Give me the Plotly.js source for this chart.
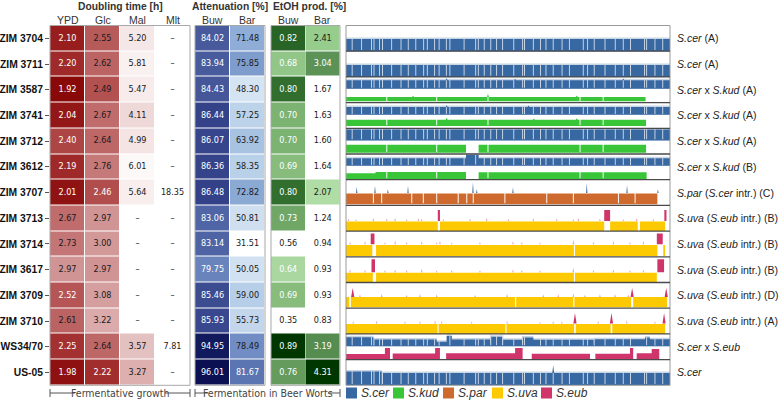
<!DOCTYPE html>
<html>
<head>
<meta charset="utf-8">
<script src="https://cdn.plot.ly/plotly-3.0.1.min.js"></script>
<style>
  html, body { margin: 0; padding: 0; background: #fff; }
  #chart { width: 780px; height: 405px; }
</style>
</head>
<body>
<div id="chart"></div>
<script>
// ---------------- phenotype tables ----------------
const strains = ['ZIM 3704', 'ZIM 3711', 'ZIM 3587', 'ZIM 3741', 'ZIM 3712', 'ZIM 3612', 'ZIM 3707',
                 'ZIM 3713', 'ZIM 3714', 'ZIM 3617', 'ZIM 3709', 'ZIM 3710', 'WS34/70', 'US-05'];
const growthCols = ['YPD', 'Glc', 'Mal', 'Mlt'];
const wortCols = ['Buw', 'Bar'];

// doubling time [h]
const dtYPD = [2.10, 2.20, 1.92, 2.04, 2.40, 2.19, 2.01, 2.67, 2.73, 2.97, 2.52, 2.61, 2.25, 1.98];
const dtGlc = [2.55, 2.62, 2.49, 2.67, 2.64, 2.76, 2.46, 2.97, 3.00, 2.97, 3.08, 3.22, 2.64, 2.22];
const dtMal = [5.20, 5.81, 5.47, 4.11, 4.99, 6.01, 5.64, null, null, null, null, null, 3.57, 3.27];
const dtMlt = [null, null, null, null, null, null, 18.35, null, null, null, null, null, 7.81, null];
// attenuation [%]
const attBuw = [84.02, 83.94, 84.43, 86.44, 86.07, 86.36, 86.48, 83.06, 83.14, 79.75, 85.46, 85.93, 94.95, 96.01];
const attBar = [71.48, 75.85, 48.30, 57.25, 63.92, 58.35, 72.82, 50.81, 31.51, 50.05, 59.00, 55.73, 78.49, 81.67];
// ethanol production [%]
const etohBuw = [0.82, 0.68, 0.80, 0.70, 0.70, 0.69, 0.80, 0.73, 0.56, 0.64, 0.69, 0.35, 0.89, 0.76];
const etohBar = [2.41, 3.04, 1.67, 1.63, 1.60, 1.64, 2.07, 1.24, 0.94, 0.93, 0.93, 0.83, 3.19, 4.31];

const genomeLabels = [
  '<i>S.cer</i> (A)', '<i>S.cer</i> (A)',
  '<i>S.cer</i> x <i>S.kud</i> (A)', '<i>S.cer</i> x <i>S.kud</i> (A)', '<i>S.cer</i> x <i>S.kud</i> (A)',
  '<i>S.cer</i> x <i>S.kud</i> (B)',
  '<i>S.par</i> (<i>S.cer</i> intr.) (C)',
  '<i>S.uva</i> (<i>S.eub</i> intr.) (B)', '<i>S.uva</i> (<i>S.eub</i> intr.) (B)',
  '<i>S.uva</i> (<i>S.eub</i> intr.) (B)', '<i>S.uva</i> (<i>S.eub</i> intr.) (D)',
  '<i>S.uva</i> (<i>S.eub</i> intr.) (A)',
  '<i>S.cer</i> x <i>S.eub</i>', '<i>S.cer</i>'
];
const species = ['S.cer', 'S.kud', 'S.par', 'S.uva', 'S.eub'];

// ---------------- read-coverage profiles (positions in Mb) ----------------
const cerChromLen = [0.230, 0.813, 0.317, 1.532, 0.577, 0.270, 1.091, 0.563, 0.440, 0.746, 0.667, 1.078, 0.924, 0.784, 1.091, 0.948];
const cerRepeats = [0.58, 0.95, 1.25, 1.70, 2.05, 2.32, 2.60, 3.03, 3.30, 3.87, 4.40, 4.93, 5.15, 5.61, 6.25,
                    6.65, 6.98, 7.45, 7.72, 8.05, 8.84, 9.00, 9.65, 10.33, 10.60, 11.20, 11.51, 11.80];
const kudBreaks = [1.52, 3.38, 5.29, 8.72, 9.58];
const parBreaks = [1.02, 1.33, 2.45, 2.88, 3.38, 4.18, 4.50, 4.74, 5.92, 7.48, 8.47, 10.15, 10.77];

// blocks: [start, end, depth]
const cov3704cer = [[0, 12.071, 0.47]];
const cov3711cer = [[0, 12.071, 0.46]];
const cov3587cer = [[0, 12.071, 0.33]];
const cov3587kud = [[0, 11.16, 0.17]];
const cov3741cer = [[0, 12.071, 0.30]];
const cov3741kud = [[0, 11.18, 0.24]];
const cov3712cer = [[0, 12.071, 0.42]];
const cov3712kud = [[0, 4.47, 0.31], [4.94, 11.18, 0.31]];
const cov3612cer = [[0, 4.47, 0.29], [4.47, 4.94, 0.42], [4.94, 12.071, 0.29]];
const cov3612kud = [[0, 1.10, 0.22], [1.10, 4.47, 0.27], [4.94, 11.20, 0.26]];
const cov3707par = [[0, 11.60, 0.42]];
const cov3713uva = [[0, 3.42, 0.37], [3.50, 9.62, 0.37], [9.84, 10.87, 0.37], [10.95, 11.89, 0.37]];
const cov3713eub = [[3.42, 3.50, 0.43], [9.62, 9.84, 0.43], [11.86, 11.94, 0.43]];
const cov3714uva = [[0, 0.98, 0.43], [1.12, 8.49, 0.43], [8.53, 11.60, 0.43], [11.82, 11.89, 0.43]];
const cov3714eub = [[0.92, 1.06, 0.42], [11.58, 11.80, 0.42]];
const cov3617uva = [[0, 1.00, 0.38], [1.12, 8.49, 0.38], [8.53, 11.58, 0.38]];
const cov3617eub = [[0.95, 1.08, 0.50], [11.60, 11.85, 0.50]];
const cov3709uva = [[0, 0.12, 0.40], [0.18, 6.30, 0.40], [6.34, 8.47, 0.40], [8.51, 10.62, 0.40], [10.70, 11.96, 0.40]];
const cov3710uva = [[0, 3.41, 0.39], [3.45, 5.94, 0.39], [5.98, 8.50, 0.39], [8.56, 9.86, 0.39], [9.92, 11.89, 0.39]];
const covWS34cer = [[0, 1.02, 0.35], [1.02, 3.38, 0.26], [3.38, 3.75, 0.17], [3.75, 3.94, 0.40], [3.94, 5.36, 0.26],
                    [5.36, 5.86, 0.37], [5.86, 6.55, 0.25], [6.55, 6.98, 0.34], [6.98, 9.22, 0.25],
                    [9.22, 11.14, 0.27], [11.14, 11.32, 0.34], [11.32, 12.071, 0.27]];
const covWS34eub = [[0, 1.45, 0.20], [1.45, 1.64, 0.43], [1.74, 3.32, 0.22], [3.32, 3.50, 0.43], [3.73, 6.30, 0.23],
                    [6.30, 6.58, 0.43], [6.92, 9.09, 0.21], [9.29, 10.58, 0.21], [10.58, 10.70, 0.43],
                    [10.83, 11.39, 0.23], [11.39, 11.67, 0.39]];
const covUS05cer = [[0, 1.33, 0.54], [1.33, 12.071, 0.48]];

// narrow peaks: [position, height]
const spk3587kud = [[2.50, 0.05], [5.29, 0.12], [8.60, 0.06]];
const spk3741kud = [[3.75, 0.08], [7.00, 0.05], [8.60, 0.06]];
const spk3587cer = [[3.75, 0.08], [6.30, 0.06], [10.33, 0.07]];
const spk3741cer = [[3.75, 0.07], [6.80, 0.06]];
const spk3707cer = [[0.40, 0.25], [1.08, 0.28], [1.56, 0.15], [2.31, 0.28], [4.73, 0.42], [4.87, 0.15],
                    [6.22, 0.22], [8.97, 0.38], [10.47, 0.30], [11.62, 0.15]];
const spk3709eub = [[0.25, 0.35], [10.66, 0.35], [11.93, 0.35]];
const spk3710eub = [[8.53, 0.41], [9.89, 0.41], [11.85, 0.41]];
const spkUS05cer = [[7.72, 0.30]];
const faint3713eub = [[0.09, 0.10], [0.37, 0.08], [1.02, 0.12], [1.52, 0.10], [1.83, 0.14], [2.26, 0.08], [2.70, 0.12],
                      [2.82, 0.09], [3.63, 0.08], [4.62, 0.10], [5.24, 0.14], [6.05, 0.09], [6.98, 0.12], [7.85, 0.10],
                      [8.47, 0.08], [8.66, 0.13], [9.46, 0.10], [10.33, 0.08], [10.83, 0.12], [11.45, 0.09]];
const faint3714eub = [[0.15, 0.10], [0.71, 0.12], [1.45, 0.08], [1.83, 0.14], [2.26, 0.10], [2.82, 0.12], [3.38, 0.09],
                      [3.50, 0.13], [3.94, 0.08], [4.99, 0.10], [6.22, 0.12], [6.55, 0.09], [7.23, 0.08], [8.47, 0.18],
                      [9.22, 0.10], [9.96, 0.12], [10.58, 0.09], [11.08, 0.12]];
const faint3617eub = [[0.15, 0.12], [0.71, 0.10], [1.45, 0.09], [1.83, 0.12], [2.26, 0.10], [2.82, 0.14], [3.38, 0.08],
                      [3.94, 0.10], [4.99, 0.09], [6.22, 0.12], [6.55, 0.10], [7.23, 0.08], [8.47, 0.18], [9.22, 0.09],
                      [9.96, 0.12], [10.58, 0.10], [11.08, 0.11]];
const faint3709eub = [[0.52, 0.10], [1.33, 0.12], [2.26, 0.08], [2.76, 0.12], [3.38, 0.10], [4.81, 0.08], [6.00, 0.12],
                      [7.35, 0.09], [7.91, 0.10], [8.47, 0.14], [8.90, 0.08], [9.46, 0.10], [10.02, 0.12], [10.52, 0.09]];
const faint3710eub = [[0.27, 0.10], [1.14, 0.12], [2.20, 0.09], [2.76, 0.10], [3.32, 0.12], [3.56, 0.10], [4.68, 0.09],
                      [6.00, 0.11], [7.23, 0.08], [7.72, 0.10], [8.04, 0.09], [9.40, 0.10], [10.46, 0.12], [11.51, 0.09]];

// ---------------- helpers ----------------
const W = 780, H = 405;
const px = v => v / W;
const py = v => 1 - v / H;
const GENOME = cerChromLen.reduce((s, v) => s + v, 0);
const cerBounds = [];
cerChromLen.reduce((s, v) => { cerBounds.push(s + v); return s + v; }, 0);
const cerDips = cerBounds.slice(0, -1).concat(cerRepeats);

const colors = { cer: '#3868a2', kud: '#38c638', par: '#cf6a2e', uva: '#fdc900', eub: '#cf356b' };
const FONT = 'Liberation Sans, Arial, sans-serif';
const NARROW = 'DejaVu Sans Condensed, Liberation Sans Narrow, Liberation Sans, Arial, sans-serif';

function toScale(stops) {
  const lo = stops[0][0], hi = stops[stops.length - 1][0];
  return stops.map(([v, c]) => [(v - lo) / (hi - lo), `rgb(${c.map(Math.round).join(',')})`]);
}

const redStops = [
  [1.90, [135, 6, 6]], [2.20, [160, 42, 42]], [2.50, [180, 82, 82]], [2.75, [197, 120, 120]],
  [3.00, [211, 152, 152]], [3.30, [222, 178, 178]], [3.60, [229, 195, 195]], [4.10, [238, 216, 216]],
  [5.00, [244, 228, 228]], [5.80, [249, 240, 240]], [6.20, [255, 255, 255]]
];
const blueStops = [
  [31.5, [255, 255, 255]], [48, [214, 228, 243]], [51, [207, 223, 240]], [56, [194, 214, 236]],
  [59, [183, 206, 232]], [64, [168, 194, 226]], [72, [141, 172, 213]], [76, [126, 156, 204]],
  [79, [110, 138, 193]], [82, [88, 114, 175]], [84, [72, 90, 156]], [86, [56, 71, 141]],
  [86.5, [51, 65, 137]], [95, [16, 26, 92]], [96.1, [10, 15, 80]]
];
const greenBuwStops = [
  [0.58, [255, 255, 255]], [0.64, [170, 214, 160]], [0.68, [146, 198, 136]], [0.70, [124, 178, 114]],
  [0.73, [112, 166, 102]], [0.76, [101, 155, 92]], [0.80, [50, 110, 46]], [0.82, [40, 100, 38]],
  [0.89, [0, 55, 0]]
];
const greenBarStops = [
  [1.70, [255, 255, 255]], [2.07, [176, 220, 166]], [2.41, [150, 204, 140]], [3.04, [92, 146, 86]],
  [3.19, [86, 140, 80]], [4.31, [0, 55, 0]]
];

const traces = [];
const idx = strains.map((_, i) => i);

function addColumn(vals, col, xa, stops, whiteText) {
  traces.push({
    type: 'heatmap', x: [col], y: idx, z: vals.map(v => [v]),
    xaxis: xa, yaxis: 'y',
    colorscale: toScale(stops), zmin: stops[0][0], zmax: stops[stops.length - 1][0],
    showscale: false, xgap: 1, ygap: 1, hoverinfo: 'skip'
  });
  traces.push({
    type: 'scatter', mode: 'text', x: vals.map(() => col), y: idx, xaxis: xa, yaxis: 'y',
    text: vals.map(v => v == null ? '–' : v.toFixed(2)),
    textfont: { family: NARROW, size: 9, color: vals.map(v => (v != null && whiteText(v)) ? '#ffffff' : '#1a1a1a') },
    hoverinfo: 'skip', cliponaxis: false
  });
}
addColumn(dtYPD, 0, 'x', redStops, v => v < 2.58);
addColumn(dtGlc, 1, 'x', redStops, v => v < 2.48);
addColumn(dtMal, 2, 'x', redStops, v => v < 2.3);
addColumn(dtMlt, 3, 'x', redStops, v => v < 2.3);
addColumn(attBuw, 0, 'x2', blueStops, v => v > 78);
addColumn(attBar, 1, 'x2', blueStops, v => v > 80);
addColumn(etohBuw, 0, 'x3', greenBuwStops, v => v > 0.62);
addColumn(etohBar, 1, 'x3', greenBarStops, v => v > 3.0);

// coverage polygon: blocks with dips at breakpoints and peaks, returned as depth profile
function buildProfile(segs, dips, spikes, dw, sw, depthFrac) {
  const items = [];
  segs.forEach(([a, b, h]) => {
    const pts = [[a, 0], [a, h]];
    const feats = [];
    dips.forEach(d => { if (d - dw > a && d + dw < b) feats.push({ p: d, dip: true }); });
    spikes.forEach(s => { if (s[0] - sw > a && s[0] + sw < b) feats.push({ p: s[0], h: s[1] }); });
    feats.sort((u, v) => u.p - v.p);
    feats.forEach(f => {
      if (f.dip) pts.push([f.p - dw, h], [f.p - dw, h * depthFrac], [f.p + dw, h * depthFrac], [f.p + dw, h]);
      else pts.push([f.p - sw, h], [f.p, h + f.h], [f.p + sw, h]);
    });
    pts.push([b, h], [b, 0]);
    items.push({ start: a, pts });
  });
  spikes.forEach(s => {
    const inside = segs.some(([a, b]) => s[0] - sw > a && s[0] + sw < b);
    if (!inside) items.push({ start: s[0] - sw, pts: [[s[0] - sw, 0], [s[0], s[1]], [s[0] + sw, 0]] });
  });
  items.sort((u, v) => u.start - v.start);
  return items.flatMap(it => it.pts);
}

function addTrack(row, base, segs, color, opt = {}) {
  const pts = buildProfile(segs, opt.dips || [], opt.spikes || [], opt.dipW || 0.018, opt.spikeW || 0.035, 0.1);
  traces.push({
    type: 'scatter', mode: 'lines', fill: 'toself', fillcolor: color,
    x: pts.map(p => p[0]), y: pts.map(p => row + 0.5 - base - p[1]),
    line: { width: 0, color: color }, xaxis: 'x4', yaxis: 'y', hoverinfo: 'skip'
  });
}
function haze(row, base, segs, color) {
  addTrack(row, base, segs.map(([a, b, h]) => [a, b, h + 0.06]), color);
}

const cerHaze = 'rgba(56,104,162,0.28)';
// single-genome rows
haze(0, 0, cov3704cer, cerHaze);
addTrack(0, 0, cov3704cer, colors.cer, { dips: cerDips });
haze(1, 0, cov3711cer, cerHaze);
addTrack(1, 0, cov3711cer, colors.cer, { dips: cerDips });
// S.cer x S.kud hybrids
haze(2, 0.54, cov3587cer, cerHaze);
addTrack(2, 0.54, cov3587cer, colors.cer, { dips: cerDips, spikes: spk3587cer });
addTrack(2, 0.05, cov3587kud, colors.kud, { dips: kudBreaks, spikes: spk3587kud });
haze(3, 0.53, cov3741cer, cerHaze);
addTrack(3, 0.53, cov3741cer, colors.cer, { dips: cerDips, spikes: spk3741cer });
addTrack(3, 0.09, cov3741kud, colors.kud, { dips: kudBreaks, spikes: spk3741kud });
haze(4, 0.53, cov3712cer, cerHaze);
addTrack(4, 0.53, cov3712cer, colors.cer, { dips: cerDips });
addTrack(4, 0.05, cov3712kud, colors.kud, { dips: kudBreaks });
haze(5, 0.545, cov3612cer, cerHaze);
addTrack(5, 0.545, cov3612cer, colors.cer, { dips: cerDips });
addTrack(5, 0.03, cov3612kud, colors.kud, { dips: kudBreaks });
// S.par with S.cer introgressions
addTrack(6, 0.48, [], colors.cer, { spikes: spk3707cer, spikeW: 0.025 });
addTrack(6, 0.04, cov3707par, colors.par, { dips: parBreaks });
// S.uva with S.eub introgressions
const faintEub = 'rgba(207,53,107,0.45)';
addTrack(7, 0, cov3713uva, colors.uva);
addTrack(7, 0.39, [], faintEub, { spikes: faint3713eub, spikeW: 0.03 });
addTrack(7, 0.39, cov3713eub, colors.eub);
addTrack(8, 0.03, cov3714uva, colors.uva);
addTrack(8, 0.49, [], faintEub, { spikes: faint3714eub, spikeW: 0.03 });
addTrack(8, 0.49, cov3714eub, colors.eub);
addTrack(9, 0, cov3617uva, colors.uva);
addTrack(9, 0.40, [], faintEub, { spikes: faint3617eub, spikeW: 0.03 });
addTrack(9, 0.40, cov3617eub, colors.eub);
addTrack(10, 0.04, cov3709uva, colors.uva);
addTrack(10, 0.44, [], faintEub, { spikes: faint3709eub, spikeW: 0.03 });
addTrack(10, 0.44, [], colors.eub, { spikes: spk3709eub, spikeW: 0.06 });
addTrack(11, 0, cov3710uva, colors.uva);
addTrack(11, 0.40, [], faintEub, { spikes: faint3710eub, spikeW: 0.03 });
addTrack(11, 0.40, [], colors.eub, { spikes: spk3710eub, spikeW: 0.06 });
// S.cer x S.eub
haze(12, 0.52, covWS34cer, cerHaze);
addTrack(12, 0.52, covWS34cer, colors.cer, { dips: cerDips });
addTrack(12, 0.02, covWS34eub, colors.eub);
// S.cer
haze(13, 0, covUS05cer, cerHaze);
addTrack(13, 0, covUS05cer, colors.cer, { dips: cerDips, spikes: spkUS05cer });

// ---------------- frames, headers, brackets, legend ----------------
const shapes = [];
['x', 'x2', 'x3'].forEach(a => shapes.push({
  type: 'rect', xref: a + ' domain', yref: 'y domain', x0: 0, x1: 1, y0: 0, y1: 1,
  line: { color: '#a8a8a8', width: 1 }, fillcolor: 'rgba(0,0,0,0)'
}));
shapes.push({ type: 'rect', xref: 'x4 domain', yref: 'y domain', x0: 0, x1: 1, y0: 0, y1: 1,
  line: { color: '#9a9a9a', width: 1 }, fillcolor: 'rgba(0,0,0,0)' });
for (let i = 0; i < strains.length - 1; i++) {
  shapes.push({ type: 'line', xref: 'x4 domain', yref: 'y', x0: 0, x1: 1, y0: i + 0.5, y1: i + 0.5,
    line: { color: '#4a4a4a', width: 1.3 } });
}

const annotations = [];
const note = (text, x, y, size, color, anchor = 'center', family = FONT) => annotations.push({
  text, x: px(x), y: py(y), xref: 'paper', yref: 'paper', showarrow: false,
  font: { family, size, color }, xanchor: anchor, yanchor: 'middle'
});
note('<b>Doubling time [h]</b>', 120, 7, 10.3, '#333');
note('<b>Attenuation [%]</b>', 230, 7, 10.3, '#333');
note('<b>EtOH prod. [%]</b>', 309, 7, 10.3, '#333');

// column headings
const colCentre = (x0, x1, n, k) => x0 + (x1 - x0) * (k + 0.5) / n;
growthCols.forEach((c, k) => note(c, colCentre(50, 190, 4, k), 19.5, 10.5, '#333'));
wortCols.forEach((c, k) => note(c, colCentre(195, 265, 2, k), 19.5, 10.5, '#333'));
wortCols.forEach((c, k) => note(c, colCentre(271, 340, 2, k), 19.5, 10.5, '#333'));

genomeLabels.forEach((t, i) => annotations.push({
  text: t, x: px(674.5), xref: 'paper', y: i, yref: 'y', xanchor: 'left', yanchor: 'middle', showarrow: false,
  font: { family: FONT, size: 10.5, color: '#222' }
}));

// range brackets under the tables
const BY = 393;
const bracket = (x0, x1, t0, t1, label) => {
  const ln = (a, b, c, d) => shapes.push({ type: 'line', xref: 'paper', yref: 'paper',
    x0: px(a), x1: px(b), y0: py(c), y1: py(d), line: { color: '#555', width: 1 } });
  ln(x0, x0, BY - 4, BY + 4); ln(x1, x1, BY - 4, BY + 4);
  ln(x0, t0, BY, BY); ln(t1, x1, BY, BY);
  note(label, (t0 + t1) / 2, BY, 10.5, '#444', 'center', NARROW);
};
bracket(50, 190, 75, 165, 'Fermentative growth');
bracket(195, 340, 208, 328, 'Fermentation in Beer Worts');

// species legend
const legendX = [346, 393, 443, 492, 541];
const legendColors = [colors.cer, colors.kud, colors.par, colors.uva, colors.eub];
species.forEach((s, k) => {
  shapes.push({ type: 'rect', xref: 'paper', yref: 'paper', x0: px(legendX[k]), x1: px(legendX[k] + 11),
    y0: py(BY + 5.5), y1: py(BY - 5.5), fillcolor: legendColors[k], line: { width: 0 } });
  note('<i>' + s + '</i>', legendX[k] + 13, BY, 12, '#333', 'left');
});

const topAxis = (dom, n) => ({
  domain: [px(dom[0]), px(dom[1])], range: [-0.5, n - 0.5], side: 'top', anchor: 'y',
  showticklabels: false, ticks: '', showgrid: false, zeroline: false, showline: false, fixedrange: true
});

const layout = {
  width: W, height: H, margin: { l: 0, r: 0, t: 0, b: 0 },
  paper_bgcolor: '#fff', plot_bgcolor: '#fff', showlegend: false,
  font: { family: FONT },
  xaxis: topAxis([50, 190], 4),
  xaxis2: topAxis([195, 265], 2),
  xaxis3: topAxis([271, 340], 2),
  xaxis4: { domain: [px(346), px(670)], range: [0, GENOME], anchor: 'y', showticklabels: false,
            ticks: '', showgrid: false, zeroline: false, showline: false, fixedrange: true },
  yaxis: { domain: [py(385.3), py(25.5)], range: [strains.length - 0.5, -0.5], anchor: 'x',
           tickvals: idx, ticktext: strains.map(s => '<b>' + s + '</b>'), ticks: 'outside', ticklen: 4,
           tickcolor: '#555', tickfont: { family: FONT, size: 10.3, color: '#111' },
           showgrid: false, zeroline: false, showline: false, fixedrange: true },
  shapes, annotations
};

Plotly.newPlot('chart', traces, layout, { staticPlot: true, displayModeBar: false });
</script>
</body>
</html>
